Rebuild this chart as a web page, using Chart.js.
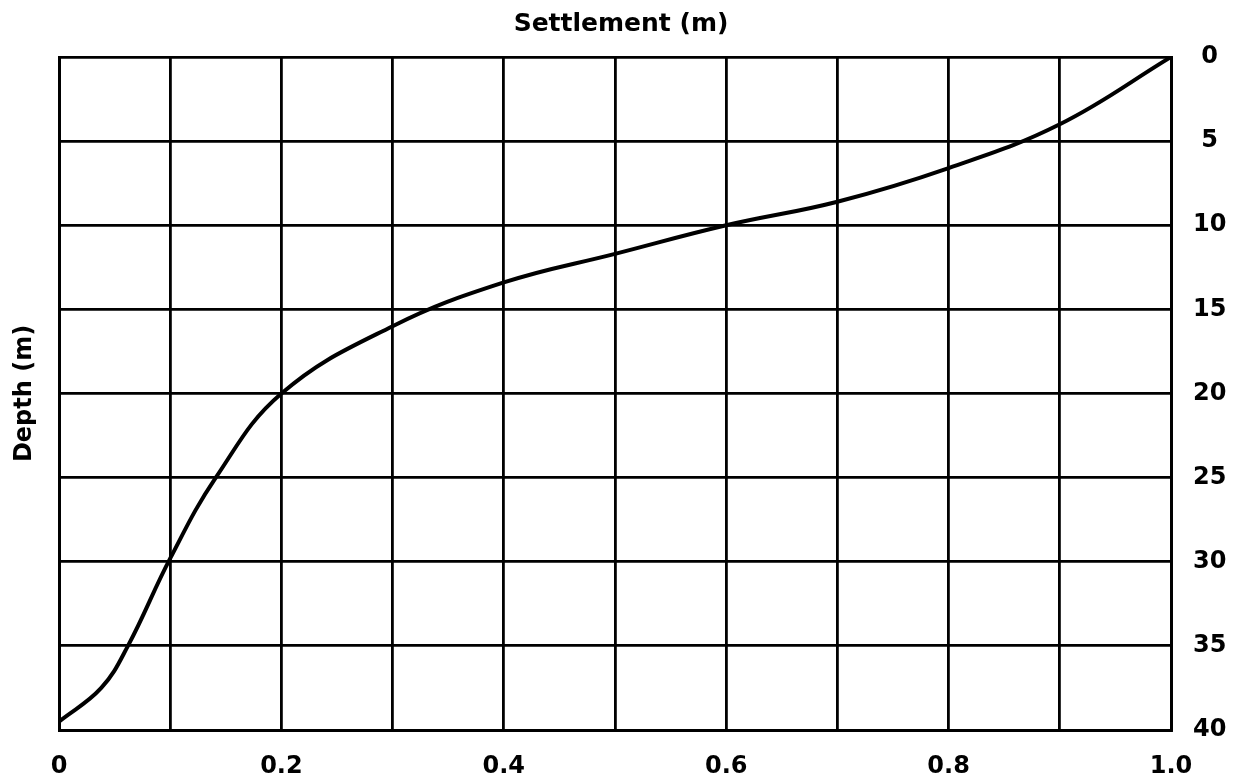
<!DOCTYPE html>
<html>
<head>
<meta charset="utf-8">
<script src="https://cdn.jsdelivr.net/npm/chart.js@4/dist/chart.umd.min.js"></script>
<style>
    html, body { margin: 0; padding: 0; background: #fff; }
    #wrap { width: 1242px; height: 782px; }
</style>
</head>
<body>
<div id="wrap"><canvas id="settlementChart"></canvas></div>
<script>
// curve, sorted by settlement
const settlement = [0, 0.038, 0.062, 0.1, 0.141, 0.2, 0.3, 0.4, 0.5, 0.6, 0.7, 0.8, 0.9, 1.0];
const depth      = [39.5, 37.5, 35, 29.8, 25, 20, 16, 13.4, 11.7, 10, 8.6, 6.6, 4, 0];

const xTickLabels = ['0', '0.2', '0.4', '0.6', '0.8', '1.0'];
const yTickLabels = ['0', '5', '10', '15', '20', '25', '30', '35', '40'];

const labelFont = { family: 'DejaVu Sans', size: 24, weight: 'bold' };

const points = settlement.map((s, i) => ({ x: s, y: depth[i] }));

new Chart(document.getElementById('settlementChart').getContext('2d'), {
    type: 'scatter',
    data: {
        datasets: [{
            data: points,
            showLine: true,
            borderColor: '#000',
            borderWidth: 4,
            pointRadius: 0,
            tension: 0.4,
            yAxisID: 'y'
        }]
    },
    options: {
        responsive: true,
        maintainAspectRatio: false,
        animation: false,
        layout: { padding: 0 },
        plugins: {
            legend: { display: false },
            tooltip: { enabled: false },
            title: {
                display: true,
                text: 'Settlement (m)',
                color: '#000',
                font: { family: 'DejaVu Sans', size: 25, weight: 'bold' },
                padding: { top: 9, bottom: 18 }
            }
        },
        scales: {
            x: {
                type: 'linear',
                position: 'bottom',
                min: 0,
                max: 1,
                afterFit: s => { s.height = 52; },
                grid: { color: '#000', lineWidth: 2.8, drawTicks: false },
                border: { color: '#000', width: 3 },
                ticks: {
                    stepSize: 0.1,
                    autoSkip: false,
                    maxRotation: 0,
                    padding: 22,
                    color: '#000',
                    font: labelFont,
                    callback: v => {
                        const k = Math.round(v * 10);
                        return k % 2 === 0 ? xTickLabels[k / 2] : '';
                    }
                }
            },
            y: {
                type: 'linear',
                position: 'right',
                reverse: true,
                min: 0,
                max: 40,
                afterFit: s => { s.width = 71; },
                grid: { color: '#000', lineWidth: 2.8, drawTicks: false },
                border: { color: '#000', width: 3 },
                ticks: {
                    stepSize: 5,
                    autoSkip: false,
                    padding: 22,
                    crossAlign: 'center',
                    color: '#000',
                    font: labelFont,
                    callback: v => yTickLabels[Math.round(v / 5)]
                }
            },
            // left side only carries the axis title
            yLeft: {
                type: 'linear',
                position: 'left',
                min: 0,
                max: 40,
                afterFit: s => { s.width = 59; },
                grid: { display: false, drawTicks: false },
                border: { display: true, color: '#000', width: 3 },
                ticks: { display: false },
                title: {
                    display: true,
                    text: 'Depth (m)',
                    color: '#000',
                    font: { family: 'DejaVu Sans', size: 24, weight: 'bold' },
                    padding: { top: 10, bottom: 0 }
                }
            }
        }
    }
});
</script>
</body>
</html>
